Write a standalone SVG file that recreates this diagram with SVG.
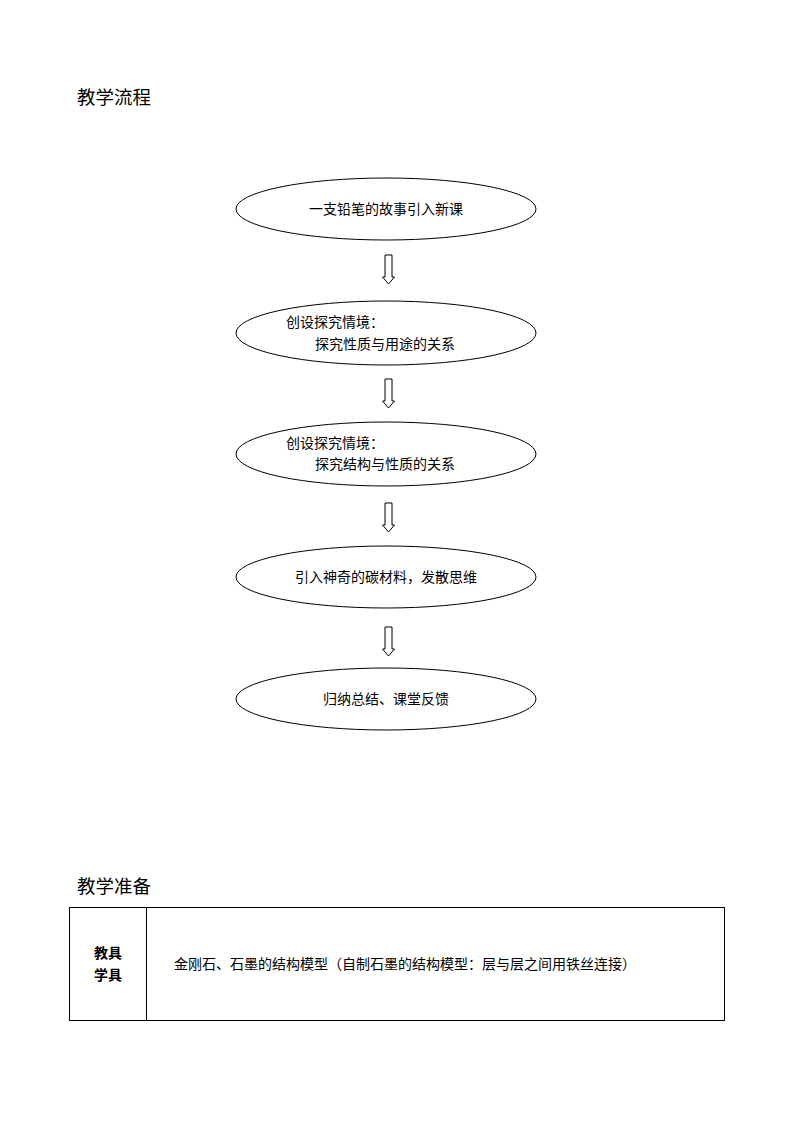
<svg xmlns="http://www.w3.org/2000/svg" width="794" height="1123" viewBox="0 0 794 1123">
<style>
.n{fill:#fff;stroke:#000;stroke-width:1}
.t{font-family:"Liberation Sans","Noto Sans CJK SC",sans-serif;font-size:14px;fill:#000}
.h{font-family:"Liberation Sans","Noto Sans CJK SC",sans-serif;font-size:18.5px;fill:#000}
.b{font-family:"Liberation Serif","Noto Sans CJK SC",serif;font-size:14px;font-weight:bold;fill:#000}
.a{fill:#fff;stroke:#000;stroke-width:1}
</style>
<defs>
<path id="arr" d="M-3.5,0 H3.5 V22 H6 L0,29 L-6,22 H-3.5 Z"/>
</defs>
<rect width="794" height="1123" fill="#fff"/>
<text class="h" x="77" y="104">教学流程</text>
<g id="connectors">
<use href="#arr" class="a" x="388.5" y="255"/>
<use href="#arr" class="a" x="388.5" y="379"/>
<use href="#arr" class="a" x="388.5" y="503"/>
<use href="#arr" class="a" x="388.5" y="627"/>
</g>
<g id="n1"><ellipse class="n" cx="386" cy="209" rx="150" ry="31"/><text class="t" x="386" y="214" text-anchor="middle">一支铅笔的故事引入新课</text></g>
<g id="n2"><ellipse class="n" cx="386" cy="333" rx="150" ry="32"/><text class="t" x="286" y="327">创设探究情境：</text><text class="t" x="315" y="349">探究性质与用途的关系</text></g>
<g id="n3"><ellipse class="n" cx="386" cy="454" rx="150" ry="32"/><text class="t" x="286" y="448">创设探究情境：</text><text class="t" x="315" y="469">探究结构与性质的关系</text></g>
<g id="n4"><ellipse class="n" cx="386" cy="577" rx="150" ry="31"/><text class="t" x="386" y="582" text-anchor="middle">引入神奇的碳材料，发散思维</text></g>
<g id="n5"><ellipse class="n" cx="386" cy="699" rx="150" ry="31"/><text class="t" x="386" y="704" text-anchor="middle">归纳总结、课堂反馈</text></g>
<text class="h" x="77" y="893">教学准备</text>
<g id="table">
<rect x="69.5" y="907.5" width="655" height="113" fill="none" stroke="#000" stroke-width="1"/>
<line x1="146.5" y1="907.5" x2="146.5" y2="1020.5" stroke="#000" stroke-width="1"/>
<text class="b" x="108" y="958" text-anchor="middle">教具</text>
<text class="b" x="108" y="980" text-anchor="middle">学具</text>
<text class="t" x="174" y="969">金刚石、石墨的结构模型（自制石墨的结构模型：层与层之间用铁丝连接）</text>
</g>
</svg>
